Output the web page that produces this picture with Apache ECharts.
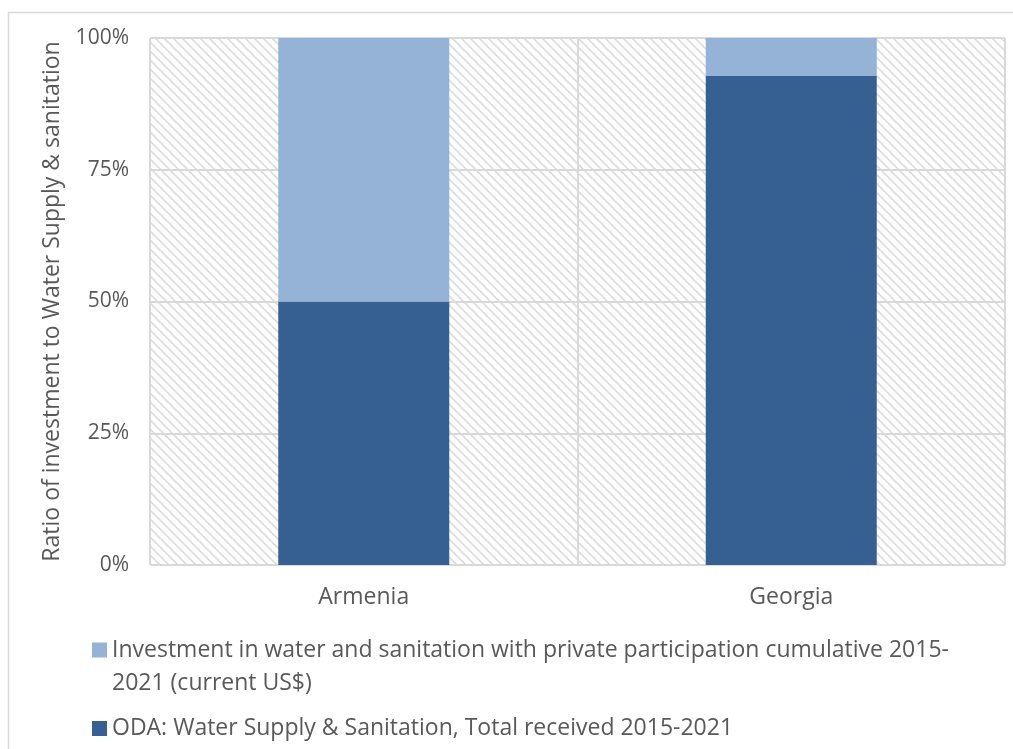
<!DOCTYPE html>
<html>
<head>
<meta charset="utf-8">
<script src="https://cdn.jsdelivr.net/npm/echarts@6/dist/echarts.min.js"></script>
<style>
  html, body { margin: 0; padding: 0; background: #ffffff; }
  #chart { width: 1013px; height: 749px; }
</style>
</head>
<body>
<div id="chart"></div>
<script>
// Countries on the x axis
const countries = ['Armenia', 'Georgia'];
// Share of total (percent) per country
const odaShare = [50.0, 92.8];
const privateShare = [50.0, 7.2];
// Series names
const privateName = 'Investment in water and sanitation with private participation cumulative 2015-\n2021 (current US$)';
const odaName = 'ODA: Water Supply & Sanitation, Total received 2015-2021';
// Y axis ticks
const yTicks = [0, 25, 50, 75, 100];

const FONT = '"Open Sans", "Noto Sans", sans-serif';
const TEXT = '#595959';
const GRID = '#d9d9d9';

// Diagonal hatch tile for the plot background
function hatchTile() {
  const s = 9;
  const c = document.createElement('canvas');
  c.width = s; c.height = s;
  const g = c.getContext('2d');
  g.strokeStyle = '#dcdcdc';
  g.lineWidth = 1.6;
  g.beginPath();
  g.moveTo(-2, s - 2); g.lineTo(2, s + 2);
  g.moveTo(0, 0); g.lineTo(s, s);
  g.moveTo(s - 2, -2); g.lineTo(s + 2, 2);
  g.stroke();
  return c;
}

const chart = echarts.init(document.getElementById('chart'), null, { renderer: 'canvas' });

chart.setOption({
  backgroundColor: '#ffffff',
  animation: false,
  textStyle: { fontFamily: FONT },
  graphic: [{
    type: 'rect',
    silent: true,
    z: -10,
    shape: { x: 8.5, y: 12.5, width: 1100, height: 800 },
    style: { fill: 'none', stroke: GRID, lineWidth: 1.5 }
  }],
  grid: {
    left: 150, right: 8, top: 38, bottom: 184,
    show: true,
    borderWidth: 0,
    backgroundColor: { image: hatchTile(), repeat: 'repeat' }
  },
  legend: {
    orient: 'vertical',
    left: 92,
    top: 600.5,
    padding: 0,
    itemGap: 12.5,
    itemWidth: 15,
    itemHeight: 15,
    icon: 'rect',
    itemStyle: { borderWidth: 0 },
    textStyle: { fontFamily: FONT, fontSize: 23, color: TEXT, lineHeight: 33 },
    // the wrapped entry gets an empty leading line so its first line sits beside the swatch
    formatter: function (name) { return name.indexOf('\n') >= 0 ? '\n' + name : name; },
    data: [privateName, odaName]
  },
  xAxis: {
    type: 'category',
    data: countries,
    axisLine: { show: false },
    axisTick: { show: false },
    axisLabel: { fontFamily: FONT, fontSize: 23, color: TEXT, margin: 21 },
    splitLine: { show: true, lineStyle: { color: GRID, width: 2 } }
  },
  yAxis: {
    type: 'value',
    min: yTicks[0],
    max: yTicks[yTicks.length - 1],
    interval: yTicks[1] - yTicks[0],
    name: 'Ratio of investment to Water Supply & sanitation',
    nameLocation: 'middle',
    nameRotate: 90,
    nameGap: 86,
    nameTextStyle: { fontFamily: FONT, fontSize: 23, color: TEXT },
    axisLine: { show: false },
    axisTick: { show: false },
    axisLabel: { fontFamily: FONT, fontSize: 21, color: TEXT, margin: 21, formatter: '{value}%' },
    splitLine: { show: true, lineStyle: { color: GRID, width: 2 } }
  },
  series: [
    {
      name: odaName,
      type: 'bar',
      stack: 'share',
      barWidth: '40%',
      data: odaShare,
      itemStyle: { color: '#376092' }
    },
    {
      name: privateName,
      type: 'bar',
      stack: 'share',
      barWidth: '40%',
      data: privateShare,
      itemStyle: { color: '#95b3d7' }
    }
  ]
});
</script>
</body>
</html>
